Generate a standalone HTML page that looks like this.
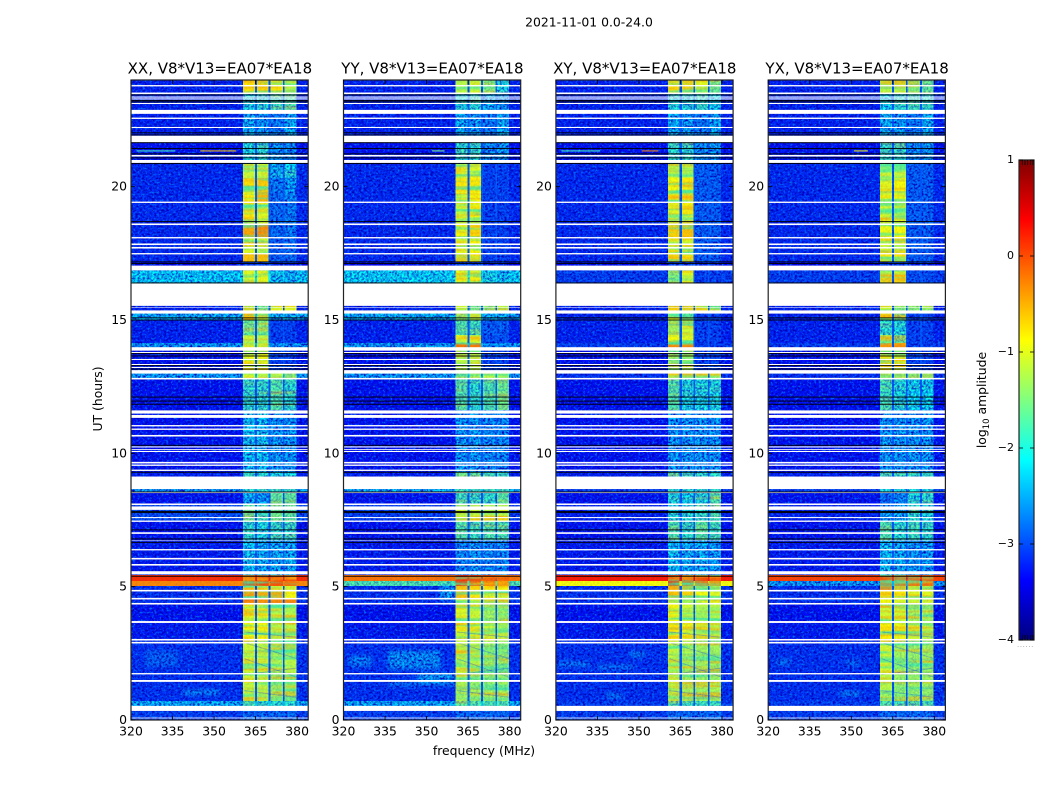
<!DOCTYPE html>
<html lang="en">
<head>
<meta charset="utf-8">
<title>2021-11-01 0.0-24.0</title>
<style>
html,body{margin:0;padding:0;background:#fff;width:1050px;height:800px;overflow:hidden}
svg{display:block;position:absolute;left:0;top:0}
text{font-family:"DejaVu Sans","Liberation Sans",sans-serif;fill:#000}
</style>
</head>
<body>
<svg id="chart" xmlns="http://www.w3.org/2000/svg" width="1050" height="800" viewBox="0 0 1050 800">
<defs>
<filter id="speckDark" x="0" y="0" width="100%" height="100%" color-interpolation-filters="sRGB">
<feTurbulence type="fractalNoise" baseFrequency="0.42 0.5" numOctaves="2" seed="4"/>
<feColorMatrix type="matrix" values="0 0 0 0 0  0 0 0 0 0  0 0 0 0 0.72  2.8 0 0 0 -1.05"/>
</filter>
<filter id="speckLight" x="0" y="0" width="100%" height="100%" color-interpolation-filters="sRGB">
<feTurbulence type="fractalNoise" baseFrequency="0.42 0.5" numOctaves="2" seed="11"/>
<feColorMatrix type="matrix" values="0 0 0 0 0  0 0 0 0 0.5  0 0 0 0 1  0 2.6 0 0 -1.3"/>
</filter>
<filter id="stripeWarm" x="0" y="0" width="100%" height="100%" color-interpolation-filters="sRGB">
<feTurbulence type="fractalNoise" baseFrequency="0.015 0.22" numOctaves="2" seed="7"/>
<feColorMatrix type="matrix" values="0 0 0 0 1  0 0 0 0 0.72  0 0 0 0 0  3 0 0 0 -1.35"/>
</filter>
<filter id="stripeCool" x="0" y="0" width="100%" height="100%" color-interpolation-filters="sRGB">
<feTurbulence type="fractalNoise" baseFrequency="0.015 0.22" numOctaves="2" seed="23"/>
<feColorMatrix type="matrix" values="0 0 0 0 0.25  0 0 0 0 0.95  0 0 0 0 0.65  0 3 0 0 -1.35"/>
</filter>
<filter id="blobBlur" x="-20%" y="-60%" width="140%" height="220%"><feGaussianBlur stdDeviation="2"/></filter>
<linearGradient id="jetGradient" x1="0" y1="1" x2="0" y2="0"></linearGradient>
</defs>
<text x="589" y="26.5" font-size="12.4" text-anchor="middle">2021-11-01 0.0-24.0</text>
<text x="102" y="399" font-size="12.4" text-anchor="middle" transform="rotate(-90 102 399)">UT (hours)</text>
<text x="484" y="755" font-size="12.4" text-anchor="middle">frequency (MHz)</text>
<g id="panels"></g>
<g id="colorbar"></g>
<text x="986" y="400" font-size="12.4" text-anchor="middle" transform="rotate(-90 986 400)">log<tspan font-size="8.5" dy="3">10</tspan><tspan dy="-3"> amplitude</tspan></text>
<text x="1017" y="647" font-size="7" fill="#999" style="fill:#999;letter-spacing:0.6px">......</text>
</svg>
<script>
/* ---------- data (hours, MHz, log10 amplitude) ---------- */
const panelTitles = ["XX, V8*V13=EA07*EA18","YY, V8*V13=EA07*EA18","XY, V8*V13=EA07*EA18","YX, V8*V13=EA07*EA18"];
const freqTicks = [320,335,350,365,380];
const hourTicks = [0,5,10,15,20];
const colorTicks = [-4,-3,-2,-1,0,1];
/* frequency columns: off-band, band1, notch, band2, notch, band3, notch, band4, off-band */
const channelEdges = [320,360.4,364.7,365.5,369.7,370.3,374.9,375.5,379.7,384];
const channelKinds = [0,1,5,2,5,3,5,4,0];
const notchLevel = -2.9;
const rowTop = [24,23.51,22.84,21.9,20.85,20.33,19.8,19.39,18.86,18.56,18.11,17.51,17.18,16.86,16.37,15.24,15,14.44,14.14,13.97,12.99,12.77,11.63,9.3,8.66,8.51,8.06,7.46,6.75,5.44,5.21,5.03,4.84,4.58,4.35,3.68,2.96,1.76,1.13,0.71,0.53];
const rowBottom = [23.51,22.84,21.9,20.85,20.33,19.8,19.39,18.86,18.56,18.11,17.51,17.18,16.86,16.37,15.24,15,14.44,14.14,13.97,12.99,12.77,11.63,9.3,8.66,8.51,8.06,7.46,6.75,5.44,5.21,5.03,4.84,4.58,4.35,3.68,2.96,1.76,1.13,0.71,0.53,0];
/* each row: off, band1, band2, band3, band4 */
const xxLevels = [
[-3.2,-.75,-.7,-.8,-1.2],[-3.2,-2.1,-2,-1.8,-1.7],[-3.2,-2.3,-2.4,-2.6,-2.3],[-3.3,-2,-1.9,-2.4,-2.5],
[-3.15,-1.1,-1.1,-2.3,-2.1],[-3.15,-.75,-.65,-2.6,-2.4],[-3.15,-.85,-.55,-2.7,-2.5],[-3.15,-.8,-1,-2.7,-2.6],
[-3.15,-.7,-1,-2.7,-2.6],[-3.15,-.45,-.3,-2.7,-2.6],[-3.15,-.9,-1.1,-2.8,-2.7],[-3.15,-.6,-.6,-2.8,-2.7],
[-3.4,-3,-3,-3.2,-3.2],[-2.15,-1,-.95,-2.2,-2.3],[-3.2,-.85,-1.5,-1,-1],[-2.3,-.6,-1.1,-2.3,-2.3],
[-3.2,-1.5,-1.4,-3,-3],[-3.2,-1.1,-1.2,-3,-3],[-2.4,-.8,-.8,-2.5,-2.5],[-3.3,-.9,-.9,-3,-3],
[-2.4,-1,-1.1,-1.2,-1.4],[-3.3,-1.9,-1.9,-1.7,-1.9],[-3.3,-2.2,-2.2,-2.4,-2.4],[-3.2,-1.8,-1.9,-2,-2],
[-2.4,-1.9,-1.9,-1.9,-1.9],[-3.3,-2.3,-2.4,-1.6,-1.6],[-2.9,-1.6,-1.8,-1.5,-1.6],[-3.3,-1.9,-2,-1.9,-1.9],
[-3.25,-2.2,-2.3,-2.3,-2.3],[.15,0,.05,.05,-.05],[-.3,.1,0,-.05,-.2],[-3.1,-1,-1,-1.1,-1.1],
[-3.1,-.4,-.5,-.5,-.9],[-3.1,-.2,-.3,-.3,-.3],[-3.3,-1,-1,-1.2,-1.2],[-3.25,-.9,-.9,-1.2,-1.2],
[-3.1,-1.1,-1.15,-1.25,-1.2],[-3.1,-1.1,-1.2,-1.3,-1.2],[-3.1,-1.15,-1.2,-1.3,-1.3],[-2.3,-1.8,-1.9,-1.9,-1.9],[-3,-2.7,-2.7,-2.7,-2.7]];
const yyLevels = [
[-3.2,-1.2,-1.1,-1.4,-2],[-3.2,-2,-1.9,-2.3,-2.4],[-3.2,-2.3,-2.4,-2.6,-2.3],[-3.3,-1.9,-1.9,-2.5,-2.4],
[-3.15,-1,-1,-3,-3],[-3.15,-.8,-.8,-3,-3],[-3.15,-1,-.9,-3,-3],[-3.15,-1.1,-.9,-3,-3],
[-3.15,-1,-1.1,-3,-3],[-3.15,-.9,-.7,-3,-3],[-3.15,-1,-.9,-3,-3],[-3.15,-.7,-.8,-3,-3],
[-3.4,-3,-3,-3.2,-3.2],[-2.1,-.95,-.95,-2.1,-2.2],[-3.2,-1.1,-1.5,-1.4,-1.2],[-2.3,-1.4,-1.2,-2.3,-2.3],
[-3.2,-1.7,-1.8,-2.8,-2.8],[-3.2,-1,-1,-2.9,-2.9],[-2.4,-.2,-.2,-2.5,-2.5],[-3.3,-1.2,-1.2,-3,-3],
[-2.4,-1.4,-1.3,-1.2,-1.2],[-3.3,-1.7,-1.9,-1.7,-1.5],[-3.3,-2.4,-2.4,-2.5,-2.5],[-3.2,-1.5,-1.7,-1.8,-1.8],
[-2.3,-1.8,-1.8,-1.8,-1.8],[-3.3,-1.8,-1.9,-1.9,-1.6],[-3,-1.1,-1.1,-1.2,-1],[-3.3,-1.7,-1.8,-1.7,-1.7],
[-3.25,-2.5,-2.4,-2.5,-2.5],[-.2,.2,.1,.05,-.1],[-1.7,.1,0,-.2,-.4],[-3.1,-.6,-.7,-.8,-.9],
[-3.1,-.6,-.8,-1,-1.1],[-3.1,-1,-1.1,-1.2,-1.2],[-3.3,-1,-1.1,-1.3,-1.3],[-3.25,-.95,-1,-1.1,-1.2],
[-3.1,-1.15,-1.2,-1.3,-1.35],[-3.1,-1.25,-1.35,-1.35,-1.3],[-3.1,-1.3,-1.3,-1.3,-1.3],[-2.3,-1.6,-1.7,-1.7,-1.7],[-3,-2.7,-2.7,-2.7,-2.7]];
const xyLevels = [
[-3.2,-.75,-.7,-1,-1.5],[-3.2,-2,-2,-1.9,-2.1],[-3.2,-2.3,-2.4,-2.6,-2.3],[-3.3,-1.9,-1.9,-2.5,-2.4],
[-3.15,-1,-1,-2.8,-2.8],[-3.15,-.9,-.8,-2.8,-2.8],[-3.15,-.8,-.75,-2.8,-2.8],[-3.15,-1,-.9,-2.8,-2.8],
[-3.15,-1.2,-1.2,-2.8,-2.8],[-3.15,-.7,-.6,-2.8,-2.8],[-3.15,-1,-1,-2.8,-2.8],[-3.15,-.7,-.75,-2.8,-2.8],
[-3.4,-3,-3,-3.2,-3.2],[-3,-1.4,-1,-3,-3],[-3.2,-.7,-1.1,-1,-1.3],[-3.2,-1,-1.4,-3,-3],
[-3.2,-1.3,-1.1,-3,-3],[-3.2,-.9,-1,-3,-3],[-3,-.3,-.3,-3,-3],[-3.3,-1.3,-1.2,-3,-3],
[-3.1,-1.1,-1.1,-1.1,-1.2],[-3.3,-1.7,-2,-2,-2],[-3.3,-2.4,-2.4,-2.4,-2.4],[-3.2,-1.8,-1.9,-1.9,-1.9],
[-3,-1.9,-1.9,-1.9,-1.9],[-3.3,-2,-2.1,-2,-1.7],[-3.2,-2,-2,-1.9,-1.8],[-3.3,-1.7,-1.9,-1.6,-1.8],
[-3.25,-2.2,-2.3,-2.3,-2.4],[.25,.1,0,.1,-.1],[-.9,.1,-.1,-.2,-.4],[-3.1,-.5,-.6,-.8,-.9],
[-3.1,-.6,-.7,-.9,-1],[-3.1,-.8,-.9,-1,-1],[-3.3,-.9,-1.1,-1.2,-1.2],[-3.25,-.8,-.95,-1.1,-1.2],
[-3.1,-1.15,-1.25,-1.3,-1.3],[-3.1,-1.15,-1.3,-1.3,-1.25],[-3.1,-1.25,-1.3,-1.35,-1.3],[-3,-1.7,-1.8,-1.8,-1.8],[-3,-2.7,-2.7,-2.7,-2.7]];
const yxLevels = [
[-3.2,-1.2,-1.2,-1.35,-1.6],[-3.2,-2.1,-1.9,-1.8,-1.9],[-3.2,-2.3,-2.4,-2.6,-2.3],[-3.3,-1.9,-1.9,-2.5,-2.4],
[-3.15,-1.15,-1.15,-2.8,-2.8],[-3.15,-1,-.9,-2.8,-2.8],[-3.15,-.95,-.9,-2.8,-2.8],[-3.15,-1,-1,-2.8,-2.8],
[-3.15,-1,-1,-2.8,-2.8],[-3.15,-.95,-.9,-2.8,-2.8],[-3.15,-1,-1,-2.8,-2.8],[-3.15,-.8,-.8,-2.8,-2.8],
[-3.4,-3,-3,-3.2,-3.2],[-3,-1.1,-1,-2.9,-2.9],[-3.2,-1.1,-1.4,-1.4,-1.3],[-3.2,-1,-1.5,-3,-3],
[-3.2,-1.9,-2,-3,-3],[-3.2,-1.3,-1.6,-3,-3],[-3,-.35,-.35,-3,-3],[-3.3,-.8,-.85,-3,-3],
[-3.1,-1.3,-1.3,-1.4,-1.3],[-3.3,-1.8,-2,-2.1,-2.1],[-3.3,-2.4,-2.4,-2.4,-2.4],[-3.2,-1.9,-1.9,-1.9,-1.9],
[-3,-2,-2,-2,-2],[-3.3,-2.7,-2.5,-2,-1.9],[-3.2,-2.4,-2.3,-1.9,-2],[-3.3,-1.7,-1.9,-1.8,-1.9],
[-3.25,-2.2,-2.3,-2.4,-2.4],[.05,-.05,-.1,0,-.1],[-2.4,-.1,-.2,-.2,-.2],[-3.1,-.3,-.6,-.8,-.8],
[-3.1,-.7,-.8,-1,-1],[-3.1,-.9,-1,-1.1,-1.1],[-3.3,-1.1,-1.1,-1.3,-1.3],[-3.25,-.85,-.95,-1.1,-1.2],
[-3.1,-1.1,-1.3,-1.35,-1.3],[-3.1,-1.2,-1.35,-1.3,-1.3],[-3.1,-1.3,-1.35,-1.35,-1.35],[-3,-1.7,-1.8,-1.8,-1.8],[-3,-2.7,-2.7,-2.7,-2.7]];
const panelLevels = [xxLevels,yyLevels,xyLevels,yxLevels];
/* flagged (white) intervals, low/high hours */
const gapLow = [23.76,23.47,23.34,23.27,23.1,22.73,22.54,22.2,21.66,21.13,20.89,19.39,18.56,18.06,17.81,17.68,17.46,16.86,15.53,15.45,15.24,13.85,13.76,13.5,13.31,13.2,12.99,12.77,11.49,11.33,11.01,10.88,10.63,10.22,10.13,10.05,9.62,9.53,9.34,8.66,8.51,8.06,7.88,7.57,7.43,6.98,6.71,6.36,6.02,5.79,5.46,4.82,4.52,4.33,3.64,2.98,2.87,1.71,1.43,.34,.06];
const gapHigh = [23.81,23.53,23.38,23.31,23.14,22.88,22.59,22.24,21.91,21.19,21,19.44,18.62,18.11,17.87,17.74,17.51,17.04,16.37,15.47,15.36,13.98,13.8,13.54,13.35,13.24,13.12,12.83,11.61,11.44,11.06,10.93,10.69,10.26,10.16,10.09,9.68,9.58,9.39,9.13,8.55,8.12,8.01,7.61,7.48,7.04,6.73,6.41,6.08,5.85,5.58,4.88,4.58,4.39,3.71,3.04,2.93,1.76,1.5,.53,.09];
/* fully dark (zero amplitude) thin lines */
const darkHours = [23.44,23.23,23.18,22.02,21.94,21.65,21.43,21.23,21.08,20.87,18.69,17.18,17.12,16.39,15.08,15,13.74,13.65,13.29,13.16,12.11,11.96,11.84,10.3,9.29,8.55,7.82,7.78,7.13,6.79,6.66,5.39];
/* diffuse emission patches: panel, f0, f1, h0, h1, level */
const patchPanel = [0,0,1,1,1,1,1,2,2,2,2,3,3,3];
const patchF0 = [339,325,336,322,347,336,355,347,321,335,338,346,348,323];
const patchF1 = [352,337,355,330,360,360,360,352,332,348,344,353,353,328];
const patchH0 = [.94,2,1.9,2,1.4,1.3,4.5,2.36,2,1.9,.82,.93,2.05,2.05];
const patchH1 = [1.13,2.6,2.6,2.4,1.76,1.43,5.03,2.55,2.2,2.05,1,1.05,2.25,2.3];
const patchLevel = [-2.5,-2.8,-2.5,-2.6,-2.4,-2.5,-2.3,-2.5,-2.6,-2.6,-2.6,-2.3,-2.7,-2.7];
/* narrow interference lines: panel, f0, f1, hour, level */
const rfiPanel = [0,0,1,2,2,3];
const rfiF0 = [322,345,352,322,351,351];
const rfiF1 = [336,358,356.5,336,357,356];
const rfiHour = [21.34,21.34,21.34,21.34,21.34,21.34];
const rfiLevel = [-1.8,-.6,-1.5,-1.8,-.3,-.9];
/* drifting absorption tracks across the bands (start/end freq, start/end hour) */
const trackF0 = [361,361,361,361,361];
const trackF1 = [380,380,380,380,380];
const trackH0 = [2.9,2.3,1.7,1.1,3.3];
const trackH1 = [2.3,1.6,1.95,.85,3.1];

/* ---------- axes ---------- */
const NS = "http://www.w3.org/2000/svg";
const axTop = 80, axBottom = 720, axWidth = 177.2;
const axLefts = [131, 343.5, 555.9, 768.2];
const cbLeft = 1019, cbRight = 1034, cbTop = 160, cbBottom = 640;
const fx = (f, p) => axLefts[p] + (f - 320) / 64 * axWidth;
const hy = h => axBottom - h / 24 * (axBottom - axTop);
const cy = v => cbBottom - (v + 4) / 5 * (cbBottom - cbTop);
function jet(v){
  const t = Math.max(0, Math.min(1, (v + 4) / 5));
  const c = x => Math.round(255 * Math.max(0, Math.min(1, 1.5 - Math.abs(4 * t - x))));
  return "rgb(" + c(3) + "," + c(2) + "," + c(1) + ")";
}
/* how visible the measurement speckle is at a given brightness */
function speckWeight(level){
  if (level <= -2.4) return 1;
  if (level >= -1.2) return 0.1;
  return 0.1 + 0.9 * (-1.2 - level) / 1.2;
}
function add(parent, tag, attrs, text){
  const e = document.createElementNS(NS, tag);
  for (const k in attrs) e.setAttribute(k, attrs[k]);
  if (text !== undefined) e.textContent = text;
  parent.appendChild(e);
  return e;
}
const defs = document.querySelector("defs");
const panelsG = document.getElementById("panels");

panelTitles.forEach((title, p) => {
  const left = axLefts[p];
  const g = add(panelsG, "g", {});
  
  
  const clip = add(defs, "clipPath", {id: "clip" + p});
  add(clip, "rect", {x: left, y: axTop, width: axWidth, height: axBottom - axTop});
  const speckMask = add(defs, "mask", {id: "speckMask" + p, maskUnits: "userSpaceOnUse", x: left, y: axTop, width: axWidth, height: axBottom - axTop});
  const stripeMask = add(defs, "mask", {id: "stripeMask" + p, maskUnits: "userSpaceOnUse", x: left, y: axTop, width: axWidth, height: axBottom - axTop});
  const t = add(g, "text", {x: left + axWidth / 2 + .3, y: 73.5, "font-size": 15, "text-anchor": "middle"}, title);
  
  
  const plot = add(g, "g", {"clip-path": "url(#clip" + p + ")"});
  
  
  /* heatmap cells */
  panelLevels[p].forEach((row, r) => {
    const yTop = hy(rowTop[r]), yBot = hy(rowBottom[r]);
    channelKinds.forEach((kind, c) => {
      const level = kind === 5 ? Math.max(row[0], notchLevel) : row[kind];
      const cx = fx(channelEdges[c], p), cw = fx(channelEdges[c + 1], p) - cx;
      const cell = add(plot, "rect", {x: cx, y: yTop, width: cw, height: yBot - yTop, fill: jet(level), "shape-rendering": "crispEdges"});
      
      
      add(speckMask, "rect", {x: cx, y: yTop, width: cw, height: yBot - yTop, fill: "#fff", "fill-opacity": kind === 5 ? 0.4 : speckWeight(level), "shape-rendering": "crispEdges"});
      if (kind !== 5 && kind !== 0) {
        add(stripeMask, "rect", {x: cx, y: yTop, width: cw, height: yBot - yTop, fill: "#fff", "fill-opacity": 1 - speckWeight(level), "shape-rendering": "crispEdges"});
      }
    });
  });
  /* diffuse patches */
  const patchG = add(plot, "g", {filter: "url(#blobBlur)"});
  patchPanel.forEach((pp, i) => {
    if (pp !== p) return;
    const patch = add(patchG, "rect", {x: fx(patchF0[i], p), y: hy(patchH1[i]), width: fx(patchF1[i], p) - fx(patchF0[i], p), height: hy(patchH0[i]) - hy(patchH1[i]), fill: jet(patchLevel[i])});
    
    
  });
  /* horizontal streaks inside the bright bands */
  const stripes = add(plot, "g", {mask: "url(#stripeMask" + p + ")"});
  add(stripes, "rect", {x: left, y: axTop, width: axWidth, height: axBottom - axTop, filter: "url(#stripeWarm)"});
  add(stripes, "rect", {x: left, y: axTop, width: axWidth, height: axBottom - axTop, filter: "url(#stripeCool)"});
  /* absorption tracks */
  trackF0.forEach((f0, i) => {
    const tr = add(plot, "line", {x1: fx(f0, p), y1: hy(trackH0[i]), x2: fx(trackF1[i], p), y2: hy(trackH1[i]), stroke: "#0a3cff", "stroke-width": 1, opacity: .3});
    
    
  });
  /* measurement speckle texture, faded on bright cells */
  const speck = add(plot, "g", {mask: "url(#speckMask" + p + ")"});
  add(speck, "rect", {x: left, y: axTop, width: axWidth, height: axBottom - axTop, filter: "url(#speckDark)"});
  add(speck, "rect", {x: left, y: axTop, width: axWidth, height: axBottom - axTop, filter: "url(#speckLight)"});
  /* narrow RFI lines */
  rfiPanel.forEach((pp, i) => {
    if (pp !== p) return;
    const rf = add(plot, "rect", {x: fx(rfiF0[i], p), y: hy(rfiHour[i]) - .5, width: fx(rfiF1[i], p) - fx(rfiF0[i], p), height: 1, fill: jet(rfiLevel[i])});
    
    
  });
  /* flagged gaps */
  gapLow.forEach((low, i) => {
    const gap = add(plot, "rect", {x: left, y: hy(gapHigh[i]), width: axWidth, height: hy(low) - hy(gapHigh[i]), fill: "#fff"});
    
    
  });
  darkHours.forEach(h => {
    const dk = add(plot, "rect", {x: left, y: hy(h) - .5, width: axWidth, height: 1, fill: "#000", opacity: .9});
    
    
  });
  /* frame */
  const frame = add(g, "rect", {x: left, y: axTop, width: axWidth, height: axBottom - axTop, fill: "none", stroke: "#222", "stroke-width": 1.2});
  
  
  /* x ticks */
  freqTicks.forEach(f => {
    const x = fx(f, p);
    add(g, "line", {x1: x, x2: x, y1: axBottom, y2: axBottom - 4, stroke: "#000", "stroke-width": .8});
    add(g, "line", {x1: x, x2: x, y1: axTop, y2: axTop + 4, stroke: "#000", "stroke-width": .8});
    const lab = add(g, "text", {x: x, y: 735.5, "font-size": 12.4, "text-anchor": "middle"}, String(f));
    
    
  });
  /* y ticks */
  hourTicks.forEach(h => {
    const y = hy(h);
    add(g, "line", {x1: left, x2: left + 4, y1: y, y2: y, stroke: "#000", "stroke-width": .8});
    add(g, "line", {x1: left + axWidth, x2: left + axWidth - 4, y1: y, y2: y, stroke: "#000", "stroke-width": .8});
    const lab = add(g, "text", {x: left - 4, y: y + 4, "font-size": 12.4, "text-anchor": "end"}, String(h));
    
    
  });
});

/* ---------- colorbar ---------- */
const grad = document.getElementById("jetGradient");
const cbG = document.getElementById("colorbar");
for (let v = -4; v <= 1.0001; v += 0.125) {
  add(grad, "stop", {offset: (v + 4) / 5, "stop-color": jet(v)});
}
const bar = add(cbG, "rect", {x: cbLeft, y: cbTop, width: cbRight - cbLeft, height: cbBottom - cbTop, fill: "url(#jetGradient)", stroke: "#222", "stroke-width": 1.2});


colorTicks.forEach(v => {
  const y = cy(v);
  add(cbG, "line", {x1: cbLeft, x2: cbLeft + 4, y1: y, y2: y, stroke: "#000", "stroke-width": .8});
  add(cbG, "line", {x1: cbRight, x2: cbRight - 4, y1: y, y2: y, stroke: "#000", "stroke-width": .8});
  const lab = add(cbG, "text", {x: cbLeft - 5, y: y + 3, "font-size": 11, "text-anchor": "end"}, v < 0 ? "\u2212" + Math.abs(v) : String(v));
  
  
});
[3.3,6,8.7,11.3,14].forEach(dx => {
  add(cbG, "line", {x1: cbLeft + dx, x2: cbLeft + dx, y1: cbTop, y2: cbTop + 5, stroke: "#000", "stroke-width": .7});
  add(cbG, "line", {x1: cbLeft + dx, x2: cbLeft + dx, y1: cbBottom, y2: cbBottom - 5, stroke: "#000", "stroke-width": .7});
});
</script>
</body>
</html>
